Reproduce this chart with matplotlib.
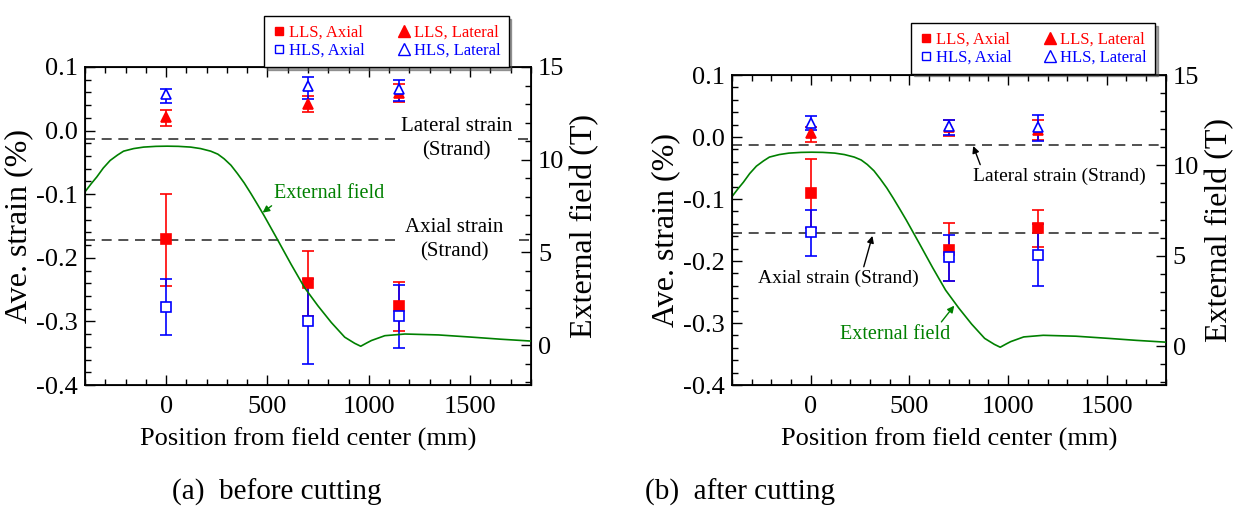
import matplotlib
matplotlib.use("Agg")
import matplotlib.pyplot as plt
from matplotlib.lines import Line2D
from matplotlib.ticker import MultipleLocator

plt.rcParams['font.family'] = ['Liberation Serif', 'DejaVu Serif']

# measurement positions (mm)
pos = [0, 700, 1150]

# (a) before cutting: value, upper error end, lower error end
a_lls_ax = [-0.171, -0.240, -0.276]
a_lls_ax_hi = [-0.099, -0.189, -0.238]
a_lls_ax_lo = [-0.244, -0.291, -0.315]
a_hls_ax = [-0.277, -0.299, -0.291]
a_hls_ax_hi = [-0.233, -0.233, -0.243]
a_hls_ax_lo = [-0.321, -0.367, -0.342]
a_lls_lat = [0.021, 0.0425, 0.059]
a_lls_lat_hi = [0.032, 0.054, 0.074]
a_lls_lat_lo = [0.007, 0.029, 0.045]
a_hls_lat = [0.057, 0.070, 0.066]
a_hls_lat_hi = [0.066, 0.084, 0.080]
a_hls_lat_lo = [0.044, 0.050, 0.046]

# (b) after cutting
b_lls_ax = [-0.091, -0.183, -0.147]
b_lls_ax_hi = [-0.036, -0.138, -0.118]
b_lls_ax_lo = [-0.147, -0.232, -0.177]
b_hls_ax = [-0.154, -0.193, -0.190]
b_hls_ax_hi = [-0.117, -0.158, -0.141]
b_hls_ax_lo = [-0.192, -0.232, -0.241]
b_lls_lat = [0.007, 0.016, 0.012]
b_lls_lat_hi = [0.016, 0.027, 0.027]
b_lls_lat_lo = [-0.008, 0.002, -0.005]
b_hls_lat = [0.023, 0.018, 0.016]
b_hls_lat_hi = [0.034, 0.027, 0.035]
b_hls_lat_lo = [0.011, 0.003, -0.006]

# strand strain reference lines
a_strand_lat = -0.0126
a_strand_ax = -0.172
b_strand_lat = -0.0124
b_strand_ax = -0.155

# external field profile (T)
field_x = [-400, -370, -342, -310, -276, -240, -210, -160, -111, -50, 5, 60, 121, 170, 220, 255,
           286, 320, 352, 385, 418, 450, 484, 550, 617, 683, 749, 815, 881, 930, 960, 990,
           1013, 1079, 1178, 1344, 1509, 1650, 1800]
field_b = [8.27, 8.70, 9.07, 9.55, 9.96, 10.25, 10.46, 10.60, 10.68, 10.72, 10.73, 10.72, 10.68,
           10.60, 10.46, 10.30, 10.05, 9.70, 9.25, 8.75, 8.18, 7.60, 6.97, 5.68, 4.35, 3.10,
           2.12, 1.22, 0.43, 0.10, -0.06, 0.12, 0.25, 0.51, 0.60, 0.55, 0.43, 0.32, 0.22]

RED = '#ff0000'
BLUE = '#0000ff'
GREEN = '#008000'

fig = plt.figure(figsize=(12.36, 5.09), dpi=100)
ax_a = fig.add_axes([0.0688, 0.2436, 0.3608, 0.6248])
ax_b = fig.add_axes([0.5922, 0.2436, 0.3511, 0.609])


def errs(v, hi, lo):
    return [[a - b for a, b in zip(v, lo)], [b - a for a, b in zip(v, hi)]]


def draw_points(ax, series):
    for v, hi, lo, col, mk, filled in series:
        ax.errorbar(pos, v, yerr=errs(v, hi, lo), fmt=mk, color=col, ecolor=col,
                    mfc=col if filled else 'white', mec=col, ms=7, mew=1.2,
                    elinewidth=1.2, capsize=4, capthick=1.2, zorder=5)


def style(ax):
    ax.set_xlim(-400, 1800)
    ax.set_ylim(-0.4, 0.1)
    ax.xaxis.set_major_locator(MultipleLocator(500))
    ax.xaxis.set_minor_locator(MultipleLocator(100))
    ax.yaxis.set_major_locator(MultipleLocator(0.1))
    ax.yaxis.set_minor_locator(MultipleLocator(0.02))
    ax.yaxis.set_major_formatter(matplotlib.ticker.FuncFormatter(lambda v, p: f"{v:.1f}".replace('-0.0', '0.0')))
    ax.tick_params(which='both', direction='in', top=True, right=False, labelsize=19, width=1)
    ax.tick_params(which='major', length=7, pad=5)
    ax.tick_params(axis='x', which='major', pad=8)
    ax.tick_params(which='minor', length=4)
    for s in ax.spines.values():
        s.set_linewidth(1.3)
    ax.set_xlabel('Position from field center (mm)', fontsize=19, labelpad=7)
    ax.set_ylabel('Ave. strain (%)', fontsize=23, labelpad=2)
    tw = ax.twinx()
    tw.set_ylim(-2.15, 15)
    tw.yaxis.set_major_locator(MultipleLocator(5))
    tw.yaxis.set_minor_locator(MultipleLocator(1))
    tw.tick_params(which='both', direction='in', labelsize=19, width=1)
    tw.tick_params(which='major', length=7, pad=5)
    tw.tick_params(which='minor', length=4)
    tw.set_ylabel('External field (T)', fontsize=23, labelpad=4)
    tw.plot(field_x, field_b, color=GREEN, lw=1.2)
    return tw


# ---- (a) before cutting
tw_a = style(ax_a)
ax_a.plot([-400, 1150], [a_strand_lat] * 2, color='black', ls=(0, (6, 4)), lw=1.2, alpha=0.8)
ax_a.plot([1735, 1800], [a_strand_lat] * 2, color='black', ls=(0, (6, 4)), lw=1.2, alpha=0.8)
ax_a.plot([-400, 1150], [a_strand_ax] * 2, color='black', ls=(0, (6, 4)), lw=1.2, alpha=0.8)
ax_a.plot([1740, 1800], [a_strand_ax] * 2, color='black', ls=(0, (6, 4)), lw=1.2, alpha=0.8)
ax_a.text(1433, a_strand_lat, 'Lateral strain\n(Strand)', ha='center', va='center',
          fontsize=15, linespacing=1.4)
ax_a.text(1423, a_strand_ax, 'Axial strain\n(Strand)', ha='center', va='center',
          fontsize=15, linespacing=1.4)
ax_a.annotate('External field', xy=(476, -0.129), xytext=(534, -0.099), fontsize=14.5,
              color=GREEN, va='center', ha='left',
              arrowprops=dict(arrowstyle='-|>', color=GREEN, lw=1, mutation_scale=10,
                              shrinkA=0, shrinkB=0, relpos=(0.03, 0.1)))
draw_points(ax_a, [
    (a_lls_ax, a_lls_ax_hi, a_lls_ax_lo, RED, 's', True),
    (a_hls_ax, a_hls_ax_hi, a_hls_ax_lo, BLUE, 's', False),
    (a_lls_lat, a_lls_lat_hi, a_lls_lat_lo, RED, '^', True),
    (a_hls_lat, a_hls_lat_hi, a_hls_lat_lo, BLUE, '^', False),
])

# ---- (b) after cutting
tw_b = style(ax_b)
ax_b.axhline(b_strand_lat, color='black', ls=(0, (6, 4)), lw=1.2, alpha=0.8)
ax_b.axhline(b_strand_ax, color='black', ls=(0, (6, 4)), lw=1.2, alpha=0.8)
ax_b.annotate('Lateral strain (Strand)', xy=(823, -0.0145), xytext=(1258, -0.063), fontsize=14,
              ha='center', va='center',
              arrowprops=dict(arrowstyle='-|>', color='black', lw=1, mutation_scale=10,
                              shrinkA=0, shrinkB=0, relpos=(0.05, 1.0)))
ax_b.annotate('Axial strain (Strand)', xy=(312, -0.1595), xytext=(142, -0.2277), fontsize=14,
              ha='center', va='center',
              arrowprops=dict(arrowstyle='-|>', color='black', lw=1, mutation_scale=10,
                              shrinkA=0, shrinkB=0, relpos=(0.65, 1.0)))
ax_b.annotate('External field', xy=(727, -0.272), xytext=(427, -0.318), fontsize=14.5,
              color=GREEN, ha='center', va='center',
              arrowprops=dict(arrowstyle='-|>', color=GREEN, lw=1, mutation_scale=10,
                              shrinkA=0, shrinkB=0, relpos=(0.9, 1.0)))
draw_points(ax_b, [
    (b_lls_ax, b_lls_ax_hi, b_lls_ax_lo, RED, 's', True),
    (b_hls_ax, b_hls_ax_hi, b_hls_ax_lo, BLUE, 's', False),
    (b_lls_lat, b_lls_lat_hi, b_lls_lat_lo, RED, '^', True),
    (b_hls_lat, b_hls_lat_hi, b_hls_lat_lo, BLUE, '^', False),
])

# legends
handles = [
    Line2D([], [], ls='none', marker='s', color=RED, mfc=RED, ms=6),
    Line2D([], [], ls='none', marker='s', color=BLUE, mfc='white', ms=6),
    Line2D([], [], ls='none', marker='^', color=RED, mfc=RED, ms=9),
    Line2D([], [], ls='none', marker='^', color=BLUE, mfc='white', ms=9),
]
labels = ['LLS, Axial', 'HLS, Axial', 'LLS, Lateral', 'HLS, Lateral']
for cx, top in [(0.3127, 0.984), (0.8358, 0.9705)]:
    leg = fig.legend(handles, labels, ncol=2, loc='upper center', bbox_to_anchor=(cx, top),
                     fontsize=12, frameon=True, fancybox=False, shadow=True,
                     handlelength=0.8, handletextpad=0.2, columnspacing=1.9,
                     borderpad=0.5, labelspacing=0.1, edgecolor='black')
    leg.get_frame().set_linewidth(1.0)
    for t, c in zip(leg.get_texts(), [RED, BLUE, RED, BLUE]):
        t.set_color(c)

fig.text(0.139, 0.0334, '(a)  before cutting', fontsize=21, va='center', ha='left')
fig.text(0.522, 0.0334, '(b)  after cutting', fontsize=21, va='center', ha='left')

fig.savefig('out.png', dpi=100)
